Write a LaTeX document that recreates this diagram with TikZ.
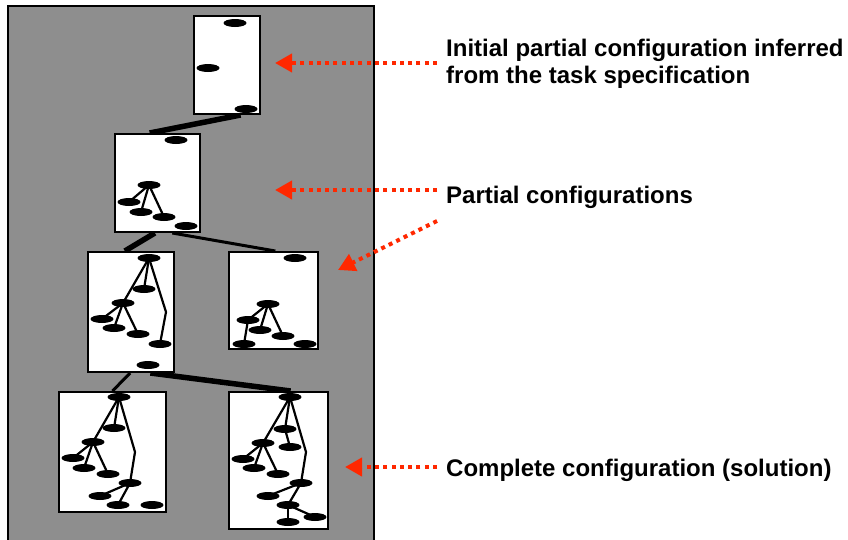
\documentclass[tikz,border=0pt]{standalone}
\usepackage{fontspec}
\setmainfont{Liberation Sans}
\usetikzlibrary{arrows.meta,shapes.geometric,calc}
\definecolor{panelgray}{RGB}{142,142,142}
\definecolor{arrred}{RGB}{255,40,0}
\pgfdeclarelayer{panel}
\pgfdeclarelayer{links}
\pgfdeclarelayer{boxes}
\pgfdeclarelayer{tree}
\pgfsetlayers{panel,links,boxes,tree,main}
\begin{document}
\begin{tikzpicture}[x=1pt,y=-1pt,
  box/.style={draw=black,line width=2pt,fill=white,inner sep=0pt},
  dot/.style={ellipse,fill=black,minimum width=23pt,minimum height=8pt,inner sep=0pt},
  edge/.style={line width=2.2pt,black},
  thicklink/.style={line width=5.5pt,black},
  thinlink/.style={line width=3pt,black},
  pointer/.style={arrred,line width=4pt,dash pattern=on 4pt off 4.3pt,-{Triangle[length=17pt,width=18pt]}},
  label/.style={font=\fontsize{24}{27}\selectfont\bfseries,anchor=base west,inner sep=0pt}]
\useasboundingbox (0,0) rectangle (848,539);
\clip (0,0) rectangle (848,539);
\begin{pgfonlayer}{panel}
\fill[white] (0,0) rectangle (848,539);
\draw[fill=panelgray,line width=2pt] (8,6) rectangle (374,560);
\end{pgfonlayer}

% boxes
\begin{pgfonlayer}{boxes}
\node[box,minimum width=66pt,minimum height=98pt] (A) at (227,65) {};
\node[box,minimum width=85pt,minimum height=98pt] (B) at (157.5,183) {};
\node[box,minimum width=86pt,minimum height=120pt] (C) at (131,312) {};
\node[box,minimum width=89pt,minimum height=97pt] (D) at (273.5,300.5) {};
\node[box,minimum width=107pt,minimum height=120pt] (E) at (112.5,452) {};
\node[box,minimum width=99pt,minimum height=137pt] (F) at (278.5,460.5) {};
\end{pgfonlayer}

% links between boxes
\begin{pgfonlayer}{links}
\draw[thicklink] ($(A.south west)!0.70!(A.south east)$) -- ($(B.north west)!0.41!(B.north east)$);
\draw[thicklink] ($(B.south west)!0.47!(B.south east)$) -- ($(C.north west)!0.43!(C.north east)$);
\draw[thinlink] ($(B.south west)!0.67!(B.south east)$) -- ($(D.north west)!0.52!(D.north east)$);
\draw[thinlink] ($(C.south west)!0.49!(C.south east)$) -- ($(E.north west)!0.50!(E.north east)$);
\draw[thicklink] ($(C.south west)!0.72!(C.south east)$) -- ($(F.north west)!0.62!(F.north east)$);
\end{pgfonlayer}

% box A
\node[dot] (a1) at (235,23) {};
\node[dot] (a2) at (208,68) {};
\node[dot] (a3) at (246,109) {};

% box B
\node[dot] (b1) at (176,140) {};
\node[dot] (b2) at (149,185) {};
\node[dot] (b3) at (129,202) {};
\node[dot] (b4) at (141,212) {};
\node[dot] (b5) at (164,217) {};
\node[dot] (b6) at (186,226) {};

% box C
\node[dot] (c1) at (149,258) {};
\node[dot] (c2) at (144,289) {};
\node[dot] (c3) at (123,303) {};
\node[dot] (c4) at (102,319) {};
\node[dot] (c5) at (114,328) {};
\node[dot] (c6) at (138,334) {};
\node[dot] (c7) at (160,344) {};
\node[dot] (c8) at (148,365) {};
\coordinate (cB) at (166,312);

% box D
\node[dot] (d1) at (295,258) {};
\node[dot] (d2) at (268,304) {};
\node[dot] (d3) at (248,320) {};
\node[dot] (d4) at (260,330) {};
\node[dot] (d5) at (283,336) {};
\node[dot] (d6) at (244,344) {};
\node[dot] (d7) at (305,344) {};

% box E
\node[dot] (e1) at (119,397) {};
\node[dot] (e2) at (114,428) {};
\node[dot] (e3) at (93,442) {};
\node[dot] (e4) at (73,458) {};
\node[dot] (e5) at (84,468) {};
\node[dot] (e6) at (108,474) {};
\node[dot] (e7) at (130,483) {};
\node[dot] (e8) at (100,496) {};
\node[dot] (e9) at (118,505) {};
\node[dot] (e10) at (152,505) {};
\coordinate (eB) at (135,452);

% box F
\node[dot] (f1) at (290,397) {};
\node[dot] (f2) at (285,429) {};
\node[dot] (f3) at (290,447) {};
\node[dot] (f4) at (263,443) {};
\node[dot] (f5) at (243,459) {};
\node[dot] (f6) at (254,468) {};
\node[dot] (f7) at (278,474) {};
\node[dot] (f8) at (301,483) {};
\node[dot] (f9) at (268,496) {};
\node[dot] (f10) at (288,505) {};
\node[dot] (f11) at (315,517) {};
\node[dot] (f12) at (288,522) {};
\coordinate (fB) at (306,452);

\begin{pgfonlayer}{tree}
\draw[edge] (b2.center) -- (b3.center);
\draw[edge] (b2.center) -- (b4.center);
\draw[edge] (b2.center) -- (b5.center);

\draw[edge] (c1.center) -- (c2.center);
\draw[edge] (c1.center) -- (c3.center);
\draw[edge] (c1.center) -- (cB) -- (c7.center);
\draw[edge] (c3.center) -- (c4.center);
\draw[edge] (c3.center) -- (c5.center);
\draw[edge] (c3.center) -- (c6.center);

\draw[edge] (d2.center) -- (d3.center);
\draw[edge] (d2.center) -- (d4.center);
\draw[edge] (d2.center) -- (d5.center);
\draw[edge] (d3.center) -- (d6.center);

\draw[edge] (e1.center) -- (e2.center);
\draw[edge] (e1.center) -- (e3.center);
\draw[edge] (e1.center) -- (eB) -- (e7.center);
\draw[edge] (e3.center) -- (e4.center);
\draw[edge] (e3.center) -- (e5.center);
\draw[edge] (e3.center) -- (e6.center);
\draw[edge] (e7.center) -- (e8.center);
\draw[edge] (e7.center) -- (e9.center);

\draw[edge] (f1.center) -- (f2.center);
\draw[edge] (f2.center) -- (f3.center);
\draw[edge] (f1.center) -- (f4.center);
\draw[edge] (f1.center) -- (fB) -- (f8.center);
\draw[edge] (f4.center) -- (f5.center);
\draw[edge] (f4.center) -- (f6.center);
\draw[edge] (f4.center) -- (f7.center);
\draw[edge] (f8.center) -- (f9.center);
\draw[edge] (f8.center) -- (f10.center);
\draw[edge] (f10.center) -- (f11.center);
\draw[edge] (f10.center) -- (f12.center);
\end{pgfonlayer}

% labels
\node[label] (t1a) at (446,56) {Initial partial configuration inferred};
\node[label] (t1b) at (446,83) {from the task specification};
\node[label] (t2) at (446,203) {Partial configurations};
\node[label] (t3) at (446,476) {Complete configuration (solution)};

% pointers
\coordinate (p1s) at (437,63);
\coordinate (p1e) at (275,63);
\coordinate (p2s) at (437,190);
\coordinate (p2e) at (275,190);
\coordinate (p3s) at (437,221);
\coordinate (p3e) at (338,270);
\coordinate (p4s) at (437,467);
\coordinate (p4e) at (345,467);
\draw[pointer] (p1s) -- (p1e);
\draw[pointer] (p2s) -- (p2e);
\draw[pointer] (p3s) -- (p3e);
\draw[pointer] (p4s) -- (p4e);
\end{tikzpicture}
\end{document}
